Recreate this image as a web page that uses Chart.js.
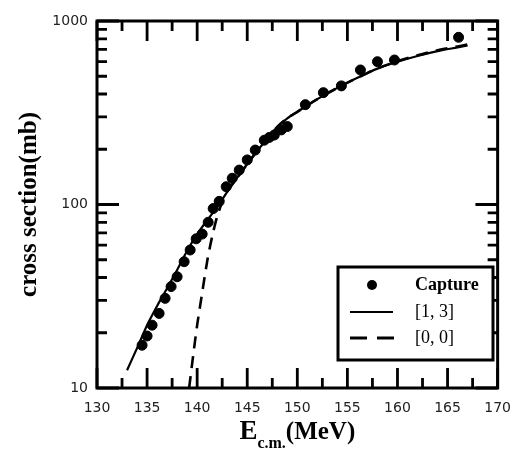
<!DOCTYPE html>
<html>
<head>
<meta charset="utf-8">
<script src="https://cdn.jsdelivr.net/npm/chart.js@4"></script>
<style>
  html, body { margin: 0; padding: 0; background: #fff; }
  #wrap { width: 523px; height: 452px; }
</style>
</head>
<body>
<div id="wrap"><canvas id="myChart" width="523" height="452"></canvas></div>
<script>
// capture data (E_cm in MeV, cross section in mb)
const captureE = [134.5, 135.0, 135.5, 136.2, 136.8, 137.4, 138.0, 138.7, 139.3, 139.9, 140.5, 141.1, 141.6, 142.2, 142.9, 143.5, 144.2, 145.0, 145.8, 146.7, 147.2, 147.7, 148.4, 149.0, 150.8, 152.6, 154.4, 156.3, 158.0, 159.7, 166.1];
const captureSigma = [17.1, 19.2, 22.0, 25.5, 30.8, 35.7, 40.4, 48.8, 56.5, 65, 69, 80, 95, 104, 125, 139, 154, 175, 198, 224, 232, 239, 255, 266, 350, 407, 443, 541, 600, 613, 815];

// [1, 3] curve
const fit13E = [133, 134, 135, 136, 137, 138, 139, 140, 141, 142, 143, 144, 145, 146, 147, 148, 149, 150, 152, 154, 156, 158, 160, 162, 164, 166, 167];
const fit13Sigma = [12.5, 16.5, 22, 28, 35, 44, 56, 69, 82, 97, 117, 140, 166, 196, 228, 265, 295, 320, 375, 432, 490, 550, 600, 645, 685, 718, 735];

// [0, 0] curve
const fit00E = [139.2, 139.6, 140, 140.5, 141, 141.5, 142, 142.5, 143, 144, 145, 146, 147, 148, 149, 150, 152, 154, 156, 158, 160, 162, 164, 166, 167];
const fit00Sigma = [10, 15, 22, 33, 49, 67, 86, 103, 118, 140, 166, 196, 228, 265, 295, 320, 375, 432, 490, 552, 603, 650, 692, 727, 745];

const xTicks = [130, 135, 140, 145, 150, 155, 160, 165, 170];
const yLabels = [10, 100, 1000];

function toPoints(xs, ys) {
    return xs.map((x, i) => ({ x: x, y: ys[i] }));
}

// frame, inward ticks on all four sides, axis titles and boxed legend
const decorations = {
    id: 'decorations',
    afterDraw(chart) {
        const ctx = chart.ctx;
        const a = chart.chartArea;
        const xs = chart.scales.x;
        const ys = chart.scales.y;
        ctx.save();
        ctx.strokeStyle = '#000';
        ctx.lineWidth = 3;
        ctx.lineCap = 'butt';
        ctx.strokeRect(a.left, a.top, a.right - a.left, a.bottom - a.top);

        ctx.lineWidth = 2.8;
        for (let v = 130; v <= 170; v += 2.5) {
            const px = xs.getPixelForValue(v);
            const len = (v % 5 === 0) ? 20 : 10;
            ctx.beginPath();
            ctx.moveTo(px, a.bottom); ctx.lineTo(px, a.bottom - len);
            ctx.moveTo(px, a.top); ctx.lineTo(px, a.top + len);
            ctx.stroke();
        }
        [10, 100].forEach(dec => {
            for (let m = 1; m <= 10; m++) {
                const v = dec * m;
                const py = ys.getPixelForValue(v);
                const len = (m === 1 || m === 10) ? 22 : 10;
                ctx.beginPath();
                ctx.moveTo(a.left, py); ctx.lineTo(a.left + len, py);
                ctx.moveTo(a.right, py); ctx.lineTo(a.right - len, py);
                ctx.stroke();
            }
        });

        // axis titles
        ctx.fillStyle = '#000';
        ctx.textBaseline = 'alphabetic';
        ctx.font = 'bold 27px "Liberation Serif"';
        const eW = ctx.measureText('E').width;
        ctx.font = 'bold 16px "Liberation Serif"';
        const subW = ctx.measureText('c.m.').width;
        ctx.font = 'bold 25px "Liberation Serif"';
        const unitW = ctx.measureText('(MeV)').width;
        let tx = (a.left + a.right) / 2 - (eW + subW + unitW) / 2;
        const base = 439;
        ctx.textAlign = 'left';
        ctx.font = 'bold 27px "Liberation Serif"';
        ctx.fillText('E', tx, base);
        tx += eW;
        ctx.font = 'bold 16px "Liberation Serif"';
        ctx.fillText('c.m.', tx, base + 9);
        tx += subW;
        ctx.font = 'bold 25px "Liberation Serif"';
        ctx.fillText('(MeV)', tx, base);

        ctx.save();
        ctx.translate(36, (a.top + a.bottom) / 2);
        ctx.rotate(-Math.PI / 2);
        ctx.textAlign = 'center';
        ctx.font = 'bold 25px "Liberation Serif"';
        ctx.fillText('cross section(mb)', 0, 0);
        ctx.restore();

        // legend
        const lx = 338, ly = 267, lw = 155, lh = 93;
        ctx.lineWidth = 3;
        ctx.fillStyle = '#fff';
        ctx.fillRect(lx, ly, lw, lh);
        ctx.strokeRect(lx, ly, lw, lh);
        ctx.fillStyle = '#000';
        ctx.beginPath();
        ctx.arc(372, 285, 5, 0, Math.PI * 2);
        ctx.fill();
        ctx.lineWidth = 2;
        ctx.beginPath();
        ctx.moveTo(350, 312); ctx.lineTo(393, 312);
        ctx.stroke();
        ctx.lineWidth = 3;
        ctx.setLineDash([17, 10]);
        ctx.beginPath();
        ctx.moveTo(350, 338); ctx.lineTo(394, 338);
        ctx.stroke();
        ctx.setLineDash([]);
        ctx.textAlign = 'left';
        ctx.textBaseline = 'middle';
        ctx.font = 'bold 18px "Liberation Serif"';
        ctx.fillText('Capture', 415, 285);
        ctx.font = '18px "Liberation Serif"';
        ctx.fillText('[1, 3]', 415, 312);
        ctx.fillText('[0, 0]', 415, 338);
        ctx.restore();
    }
};

const ctx = document.getElementById('myChart').getContext('2d');
new Chart(ctx, {
    type: 'scatter',
    data: {
        datasets: [
            {
                label: '[1, 3]',
                data: toPoints(fit13E, fit13Sigma),
                showLine: true,
                borderColor: '#000',
                borderWidth: 2.2,
                pointRadius: 0,
                tension: 0.3,
                fill: false
            },
            {
                label: '[0, 0]',
                data: toPoints(fit00E, fit00Sigma),
                showLine: true,
                borderColor: '#000',
                borderWidth: 2.6,
                borderDash: [12, 8],
                pointRadius: 0,
                tension: 0.3,
                fill: false
            },
            {
                label: 'Capture',
                data: toPoints(captureE, captureSigma),
                showLine: false,
                backgroundColor: '#000',
                borderColor: '#000',
                pointRadius: 5,
                pointHoverRadius: 5
            }
        ]
    },
    options: {
        responsive: false,
        animation: false,
        events: [],
        layout: { padding: { top: 21, right: 13, left: 0, bottom: 0 } },
        plugins: {
            legend: { display: false },
            tooltip: { enabled: false }
        },
        scales: {
            x: {
                type: 'linear',
                min: 130,
                max: 170,
                afterBuildTicks: (s) => { s.ticks = xTicks.map(v => ({ value: v })); },
                afterFit: (s) => { s.height = 64; },
                grid: { display: false, drawTicks: false },
                border: { display: false },
                ticks: {
                    padding: 12,
                    color: '#222',
                    font: { family: 'DejaVu Sans', size: 14 }
                }
            },
            y: {
                type: 'logarithmic',
                min: 10,
                max: 1000,
                afterBuildTicks: (s) => { s.ticks = yLabels.map(v => ({ value: v })); },
                afterFit: (s) => { s.width = 97; },
                grid: { display: false, drawTicks: false },
                border: { display: false },
                ticks: {
                    padding: 9,
                    color: '#222',
                    font: { family: 'DejaVu Sans', size: 14 },
                    callback: (v) => String(v)
                }
            }
        }
    },
    plugins: [decorations]
});
</script>
</body>
</html>
